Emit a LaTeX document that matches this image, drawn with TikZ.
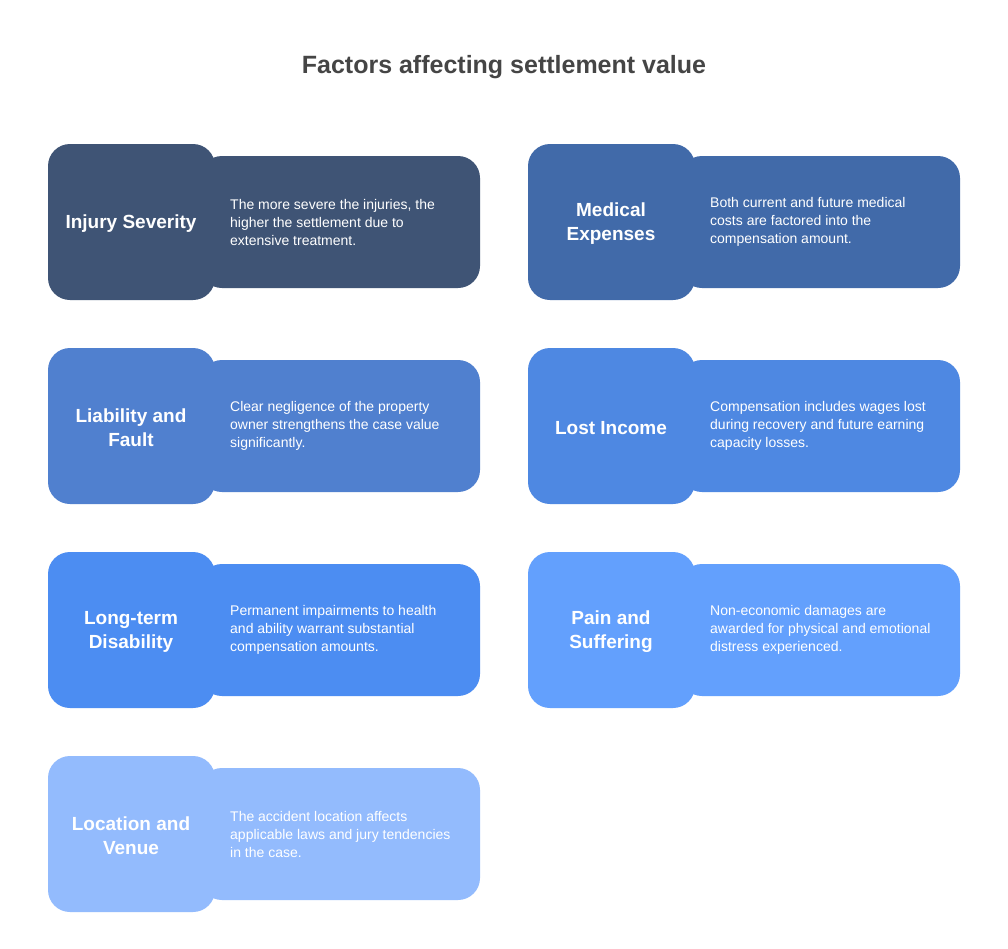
\documentclass[tikz,border=0pt]{standalone}
\usepackage{fontspec}
\setmainfont{Liberation Sans}
\begin{document}
\begin{tikzpicture}[x=1pt,y=-1pt,
  tab/.style={rounded corners=22pt},
  ttl/.style={font=\fontsize{19}{24}\selectfont\bfseries,text=white,align=center},
  desc/.style={font=\fontsize{14}{18}\selectfont,text=white,align=left,anchor=west,inner sep=0pt}]
\useasboundingbox[fill=white] (0,0) rectangle (1008,948);
\node[font=\fontsize{25}{28}\selectfont\bfseries,text=black!73] (title) at (504,67) {Factors affecting settlement value};
\definecolor{c1}{HTML}{3F5475}
\definecolor{c2}{HTML}{416AA9}
\definecolor{c3}{HTML}{5080CF}
\definecolor{c4}{HTML}{4E88E2}
\definecolor{c5}{HTML}{4C8DF2}
\definecolor{c6}{HTML}{63A0FD}
\definecolor{c7}{HTML}{93BBFD}
\foreach \x/\y/\c/\t/\d/\n in {
 0/144/c1/{Injury Severity}/{The more severe the injuries, the\\higher the settlement due to\\extensive treatment.}/a,
 480/144/c2/{Medical\\Expenses}/{Both current and future medical\\costs are factored into the\\compensation amount.}/b,
 0/348/c3/{Liability and\\Fault}/{Clear negligence of the property\\owner strengthens the case value\\significantly.}/c,
 480/348/c4/{Lost Income}/{Compensation includes wages lost\\during recovery and future earning\\capacity losses.}/d,
 0/552/c5/{Long-term\\Disability}/{Permanent impairments to health\\and ability warrant substantial\\compensation amounts.}/e,
 480/552/c6/{Pain and\\Suffering}/{Non-economic damages are\\awarded for physical and emotional\\distress experienced.}/f,
 0/756/c7/{Location and\\Venue}/{The accident location affects\\applicable laws and jury tendencies\\in the case.}/g}{
  \fill[tab,\c] (\x+200,\y+12) rectangle (\x+480,\y+144);
  \fill[tab,\c] (\x+48,\y) rectangle (\x+215,\y+156);
  \node[ttl] (t\n) at (\x+131,\y+80) {\t};
  \node[desc] (d\n) at (\x+230,\y+78) {\d};
}
\end{tikzpicture}
\end{document}
